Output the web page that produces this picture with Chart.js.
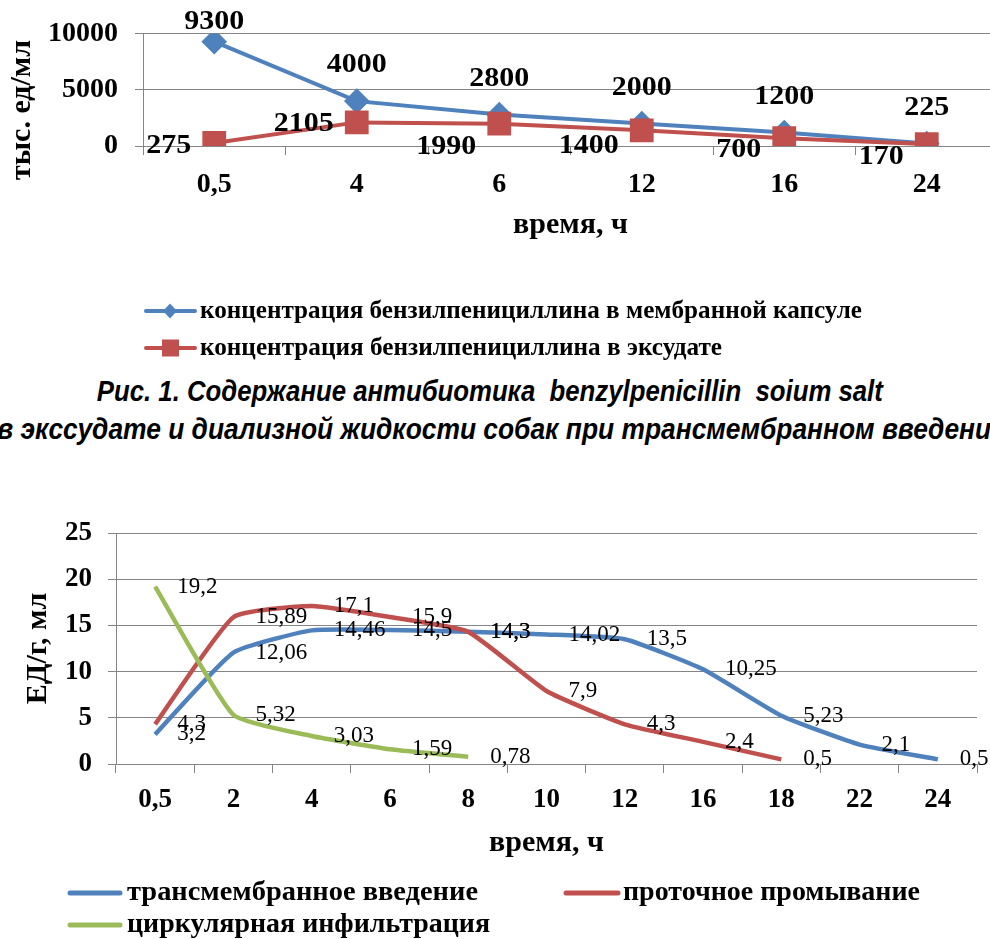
<!DOCTYPE html>
<html lang="ru">
<head>
<meta charset="utf-8">
<title>Содержание бензилпенициллина</title>
<script src="https://cdn.jsdelivr.net/npm/chart.js@4.4.1/dist/chart.umd.min.js"></script>
<style>
  html, body { margin: 0; padding: 0; background: #fff; overflow: hidden; }
  body { width: 990px; height: 939px; position: relative; }
  .wrap { position: absolute; left: 0; }
  canvas { display: block; }
  .cap { position: absolute; width: 1600px; text-align: center; white-space: nowrap;
         font-family: "Liberation Sans Narrow", "Arial Narrow", "Liberation Sans", Arial, sans-serif;
         font-style: italic; font-weight: bold; font-size: 29px; line-height: 34px; color: #000; }
  .cap span { display: inline-block; transform-origin: 50% 50%; }
</style>
</head>
<body>
<div class="wrap" style="top:0;width:1003px;height:370px"><canvas id="chart1" width="1003" height="370"></canvas></div>
<div class="cap" style="top:374px;left:-310px"><span id="cap1">Рис. 1. Содержание антибиотика&nbsp; benzylpenicillin&nbsp; soium salt</span></div>
<div class="cap" style="top:412px;left:-298px"><span id="cap2">в экссудате и диализной жидкости собак при трансмембранном введении</span></div>
<div class="wrap" style="top:470px;width:990px;height:469px"><canvas id="chart2" width="990" height="469"></canvas></div>

<script>
// ---- Рис. 1: бензилпенициллин в мембранной капсуле и в эксудате ----
const hours1 = ['0,5', '4', '6', '12', '16', '24'];
const capsuleConc = [9300, 4000, 2800, 2000, 1200, 225];
const exudateConc = [275, 2105, 1990, 1400, 700, 170];
const yTicks1 = [0, 5000, 10000];

// ---- Рис. 2: ЕД/г по способам введения ----
const hours2 = ['0,5', '2', '4', '6', '8', '10', '12', '16', '18', '22', '24'];
const transmembrane = [3.2, 12.06, 14.46, 14.5, 14.3, 14.02, 13.5, 10.25, 5.23, 2.1, 0.5];
const flowWash = [4.3, 15.89, 17.1, 15.9, 14.3, 7.9, 4.3, 2.4, 0.5, null, null];
const circular = [19.2, 5.32, 3.03, 1.59, 0.78, null, null, null, null, null, null];
const yTicks2 = [0, 5, 10, 15, 20, 25];

const SERIF = '"Liberation Serif", "Times New Roman", serif';
const BLUE = '#4F81BD', RED = '#C0504D', GREEN = '#9BBB59', GRID = '#858585';
Chart.defaults.font.family = SERIF;
Chart.defaults.color = '#000';

const fmt = v => String(v).replace('.', ',');

// text helper: optional horizontal stretch or fit to a given width
function drawText(ctx, text, x, y, font, align, opt = {}) {
  ctx.save();
  ctx.font = font;
  let sx = opt.sx || 1;
  if (opt.width) sx = opt.width / ctx.measureText(text).width;
  ctx.translate(x, y);
  if (opt.rot) ctx.rotate(opt.rot);
  ctx.scale(sx, 1);
  ctx.textAlign = align;
  ctx.textBaseline = 'middle';
  ctx.fillStyle = '#000';
  ctx.fillText(text, 0, 0);
  ctx.restore();
}

function legendLine(ctx, x1, x2, y, color, width) {
  ctx.save();
  ctx.strokeStyle = color;
  ctx.lineWidth = width;
  ctx.lineCap = 'round';
  ctx.beginPath(); ctx.moveTo(x1, y); ctx.lineTo(x2, y); ctx.stroke();
  ctx.restore();
}

// ---------- Chart 1 ----------
const exudateLabelDy = [3, 1, 23, 15, 12, 13];   // nudges keep red labels clear of the lines

const chart1Decor = {
  id: 'chart1Decor',
  afterDatasetsDraw(chart) {
    const ctx = chart.ctx;
    const f = 'bold 28px ' + SERIF;
    chart.getDatasetMeta(0).data.forEach((p, i) =>
      drawText(ctx, fmt(capsuleConc[i]), p.x, Math.max(p.y - 36, 22), f, 'center', { sx: 1.07 }));
    chart.getDatasetMeta(1).data.forEach((p, i) =>
      drawText(ctx, fmt(exudateConc[i]), p.x - 23, p.y + exudateLabelDy[i], f, 'right', { sx: 1.07 }));
  },
  afterDraw(chart) {
    const ctx = chart.ctx;
    // y-axis title
    drawText(ctx, 'тыс. ед/мл', 22, 110, 'bold 30px ' + SERIF, 'center', { rot: -Math.PI / 2, width: 140 });
    // legend
    const lf = 'bold 26px ' + SERIF;
    legendLine(ctx, 146, 195, 311, BLUE, 4);
    ctx.save(); ctx.fillStyle = BLUE; ctx.beginPath();
    ctx.moveTo(163, 311); ctx.lineTo(170, 303.5); ctx.lineTo(177, 311); ctx.lineTo(170, 318.5); ctx.closePath(); ctx.fill();
    ctx.restore();
    drawText(ctx, 'концентрация бензилпенициллина в мембранной капсуле', 200, 311, lf, 'left', { width: 662 });
    legendLine(ctx, 146, 195, 348, RED, 4);
    ctx.save(); ctx.fillStyle = RED; ctx.fillRect(162, 339.5, 17, 17); ctx.restore();
    drawText(ctx, 'концентрация бензилпенициллина в эксудате', 200, 348, lf, 'left', { width: 522 });
  }
};

// plot area runs a few pixels past the right edge of the page
new Chart(document.getElementById('chart1'), {
  type: 'line',
  data: {
    labels: hours1,
    datasets: [
      { label: 'концентрация бензилпенициллина в мембранной капсуле', data: capsuleConc,
        borderColor: BLUE, backgroundColor: BLUE, borderWidth: 4, pointStyle: 'rectRot',
        pointRadius: 10, pointBorderColor: BLUE, pointBackgroundColor: BLUE, order: 1, tension: 0 },
      { label: 'концентрация бензилпенициллина в эксудате', data: exudateConc,
        borderColor: RED, backgroundColor: RED, borderWidth: 4, pointStyle: 'rect',
        pointRadius: 14, pointBorderColor: RED, pointBackgroundColor: RED, order: 0, tension: 0 }
    ]
  },
  options: {
    responsive: false, animation: false,
    layout: { autoPadding: false, padding: { top: 33, right: 5, bottom: 124, left: 0 } },
    plugins: { legend: { display: false }, tooltip: { enabled: false } },
    scales: {
      x: {
        type: 'category', offset: true,
        grid: { offset: true, drawOnChartArea: false, drawTicks: true, tickLength: 9, color: GRID },
        border: { color: GRID, width: 1 },
        ticks: { font: { size: 28, weight: 'bold' }, color: '#000', padding: 13, maxRotation: 0, autoSkip: false },
        title: { display: true, text: 'время, ч', color: '#000', font: { size: 30, weight: 'bold' },
                 padding: { top: 0, bottom: 3 } },
        afterFit(s) { s.height = 100; }
      },
      y: {
        min: 0, max: 10000,
        afterBuildTicks(s) { s.ticks = yTicks1.map(v => ({ value: v })); },
        grid: { color: GRID, tickLength: 8 },
        border: { color: GRID, width: 1 },
        ticks: { font: { size: 28, weight: 'bold' }, color: '#000', padding: 17, callback: v => String(v) },
        afterFit(s) { s.width = 143; }
      }
    }
  },
  plugins: [chart1Decor]
});

// ---------- Chart 2 ----------
const series2 = [transmembrane, flowWash, circular];

const chart2Decor = {
  id: 'chart2Decor',
  afterDatasetsDraw(chart) {
    const ctx = chart.ctx;
    const f = '23px ' + SERIF;
    series2.forEach((vals, d) => {
      chart.getDatasetMeta(d).data.forEach((p, i) => {
        if (vals[i] == null) return;
        drawText(ctx, fmt(vals[i]), p.x + 22, p.y, f, 'left');
      });
    });
  },
  afterDraw(chart) {
    const ctx = chart.ctx;
    const lf = 'bold 27px ' + SERIF;
    legendLine(ctx, 70, 120, 423, BLUE, 5);
    drawText(ctx, 'трансмембранное введение', 127, 423, lf, 'left', { width: 351 });
    legendLine(ctx, 566, 618, 423, RED, 5);
    drawText(ctx, 'проточное промывание', 623, 423, lf, 'left', { width: 297 });
    legendLine(ctx, 70, 120, 455, GREEN, 5);
    drawText(ctx, 'циркулярная инфильтрация', 127, 455, lf, 'left', { width: 363 });
  }
};

new Chart(document.getElementById('chart2'), {
  type: 'line',
  data: {
    labels: hours2,
    datasets: [
      { label: 'трансмембранное введение', data: transmembrane, borderColor: BLUE, backgroundColor: BLUE,
        borderWidth: 4.5, pointRadius: 0, tension: 0.15, order: 2, spanGaps: false },
      { label: 'проточное промывание', data: flowWash, borderColor: RED, backgroundColor: RED,
        borderWidth: 4.5, pointRadius: 0, tension: 0.15, order: 1, spanGaps: false },
      { label: 'циркулярная инфильтрация', data: circular, borderColor: GREEN, backgroundColor: GREEN,
        borderWidth: 4.5, pointRadius: 0, tension: 0.15, order: 0, spanGaps: false }
    ]
  },
  options: {
    responsive: false, animation: false,
    layout: { autoPadding: false, padding: { top: 63, right: 13, bottom: 75, left: 0 } },
    plugins: { legend: { display: false }, tooltip: { enabled: false } },
    scales: {
      x: {
        type: 'category', offset: true,
        grid: { offset: true, drawOnChartArea: false, drawTicks: true, tickLength: 9, color: GRID },
        border: { color: GRID, width: 1 },
        ticks: { font: { size: 27, weight: 'bold' }, color: '#000', padding: 11, maxRotation: 0, autoSkip: false },
        title: { display: true, text: 'время, ч', color: '#000', font: { size: 30, weight: 'bold' },
                 padding: { top: 0, bottom: 3 } },
        afterFit(s) { s.height = 100; }
      },
      y: {
        min: 0, max: 25,
        afterBuildTicks(s) { s.ticks = yTicks2.map(v => ({ value: v })); },
        grid: { color: GRID, tickLength: 8 },
        border: { color: GRID, width: 1 },
        ticks: { font: { size: 27, weight: 'bold' }, color: '#000', padding: 16 },
        title: { display: true, text: 'ЕД/г, мл', color: '#000', font: { size: 30, weight: 'bold' },
                 padding: { top: 20, bottom: 0 } },
        afterFit(s) { s.width = 116; }
      }
    }
  },
  plugins: [chart2Decor]
});

// caption lines: first line spans 786px, the second runs slightly past the right edge
(function fitCaptions() {
  const c1 = document.getElementById('cap1'), c2 = document.getElementById('cap2');
  c1.style.transform = 'scaleX(' + (786 / c1.getBoundingClientRect().width) + ')';
  c2.style.transform = 'scaleX(' + (1010 / c2.getBoundingClientRect().width) + ')';
})();
</script>
</body>
</html>
